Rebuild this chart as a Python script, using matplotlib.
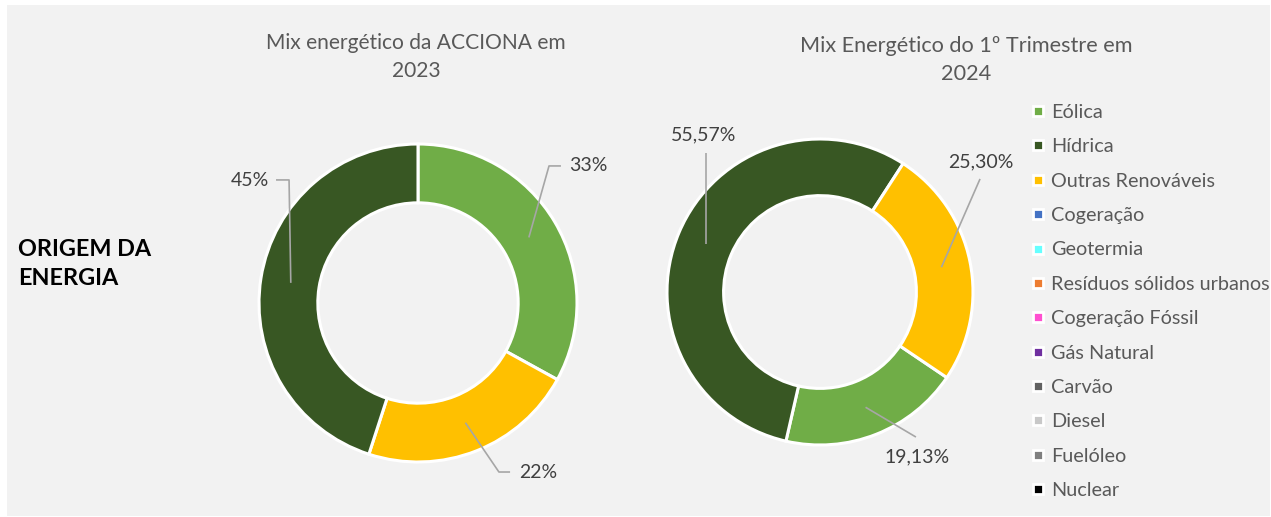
import numpy as np
import matplotlib
matplotlib.use("Agg")
import matplotlib.pyplot as plt
from matplotlib.patches import Rectangle
from matplotlib.lines import Line2D

plt.rcParams['font.family'] = ['Lato', 'DejaVu Sans']

# ---- data ----
legend_names = ['Eólica', 'Hídrica', 'Outras Renováveis', 'Cogeração', 'Geotermia',
                'Resíduos sólidos urbanos', 'Cogeração Fóssil', 'Gás Natural',
                'Carvão', 'Diesel', 'Fuelóleo', 'Nuclear']
legend_colors = ['#70ad47', '#385723', '#ffc000', '#4472c4', '#66ffff', '#ed7d31',
                 '#ff4fd0', '#7030a0', '#636363', '#c8c8c8', '#7f7f7f', '#000000']

# 2023 (clockwise from top)
cats_2023 = ['Eólica', 'Outras Renováveis', 'Hídrica']
vals_2023 = [33, 22, 45]
labels_2023 = ['33%', '22%', '45%']

# 1º trimestre 2024 (clockwise, first slice at 124 deg)
cats_2024 = ['Eólica', 'Hídrica', 'Outras Renováveis']
vals_2024 = [19.13, 55.57, 25.30]
labels_2024 = ['19,13%', '55,57%', '25,30%']

color_of = dict(zip(legend_names, legend_colors))

W, H = 1271, 517
fig = plt.figure(figsize=(W / 100, H / 100), dpi=100)
fig.patch.set_facecolor('white')
bg = fig.add_axes([0, 0, 1, 1])
bg.set_xlim(0, W)
bg.set_ylim(H, 0)
bg.axis('off')
bg.add_patch(Rectangle((7, 5), W - 8, H - 6, facecolor='#f2f2f2', edgecolor='none'))

txt_col = '#404040'
line_col = '#a6a6a6'


def donut(cx, cy, R, cats, vals, labels, first_angle, label_layout):
    ax = fig.add_axes([(cx - R) / W, 1 - (cy + R) / H, 2 * R / W, 2 * R / H])
    ax.set_facecolor('none')
    wedges, _ = ax.pie(vals, colors=[color_of[c] for c in cats], radius=1,
                       startangle=90 - first_angle, counterclock=False,
                       wedgeprops=dict(width=0.37, edgecolor='white', linewidth=2.2))
    ax.set_xlim(-1, 1)
    ax.set_ylim(-1, 1)
    ax.axis('off')
    total = sum(vals)
    start = first_angle
    for v, lab, lay in zip(vals, labels, label_layout):
        mid = np.deg2rad(start + v / total * 360 / 2)
        start += v / total * 360
        ax_, ay_ = 0.81 * np.sin(mid), 0.81 * np.cos(mid)
        pts, (tx, ty, ha) = lay
        xs = [ax_] + [p[0] if p[0] is not None else ax_ for p in pts]
        ys = [ay_] + [p[1] for p in pts]
        ax.plot(xs, ys, color=line_col, lw=1.2, clip_on=False, solid_capstyle='butt')
        ax.text(tx, ty, lab, ha=ha, va='center', fontsize=14, color=txt_col, clip_on=False)
    return ax


# label layout: leader points after anchor, then text position (units of radius)
layout_2023 = [
    ([(0.824, 0.862), (0.899, 0.862)], (0.950, 0.862, 'left')),
    ([(0.509, -1.063), (0.579, -1.063)], (0.636, -1.069, 'left')),
    ([(-0.811, 0.774), (-0.893, 0.774)], (-0.940, 0.770, 'right')),
]
layout_2024 = [
    ([(0.627, -0.948)], (0.634, -1.078, 'center')),
    ([(None, 0.908)], (-0.758, 1.026, 'center')),
    ([(1.046, 0.739)], (1.052, 0.850, 'center')),
]

donut(418, 303, 159, cats_2023, vals_2023, labels_2023, 0, layout_2023)
donut(820, 292, 153, cats_2024, vals_2024, labels_2024, 124, layout_2024)

# titles
bg.text(416, 57, 'Mix energético da ACCIONA em\n2023', ha='center', va='center',
        fontsize=15.1, color='#595959', linespacing=1.5)
bg.text(966, 60, 'Mix Energético do 1º Trimestre em\n2024', ha='center', va='center',
        fontsize=15.6, color='#595959', linespacing=1.45)

bg.text(18, 264, 'ORIGEM DA\nENERGIA', ha='left', va='center', fontsize=16.8,
        fontweight='bold', color='black', linespacing=1.42)

# legend
handles = [Line2D([], [], marker='s', linestyle='none', markersize=7,
                  markerfacecolor=c, markeredgecolor='white', markeredgewidth=2)
           for c in legend_colors]
leg = bg.legend(handles, legend_names, loc='upper left',
                bbox_to_anchor=(1022 / W, 1 - 96 / H), frameon=False,
                fontsize=14.3, labelcolor='#595959', handlelength=0.8,
                handletextpad=0.25, labelspacing=0.875, borderaxespad=0)

fig.savefig('out.png', dpi=100, facecolor=fig.get_facecolor())
